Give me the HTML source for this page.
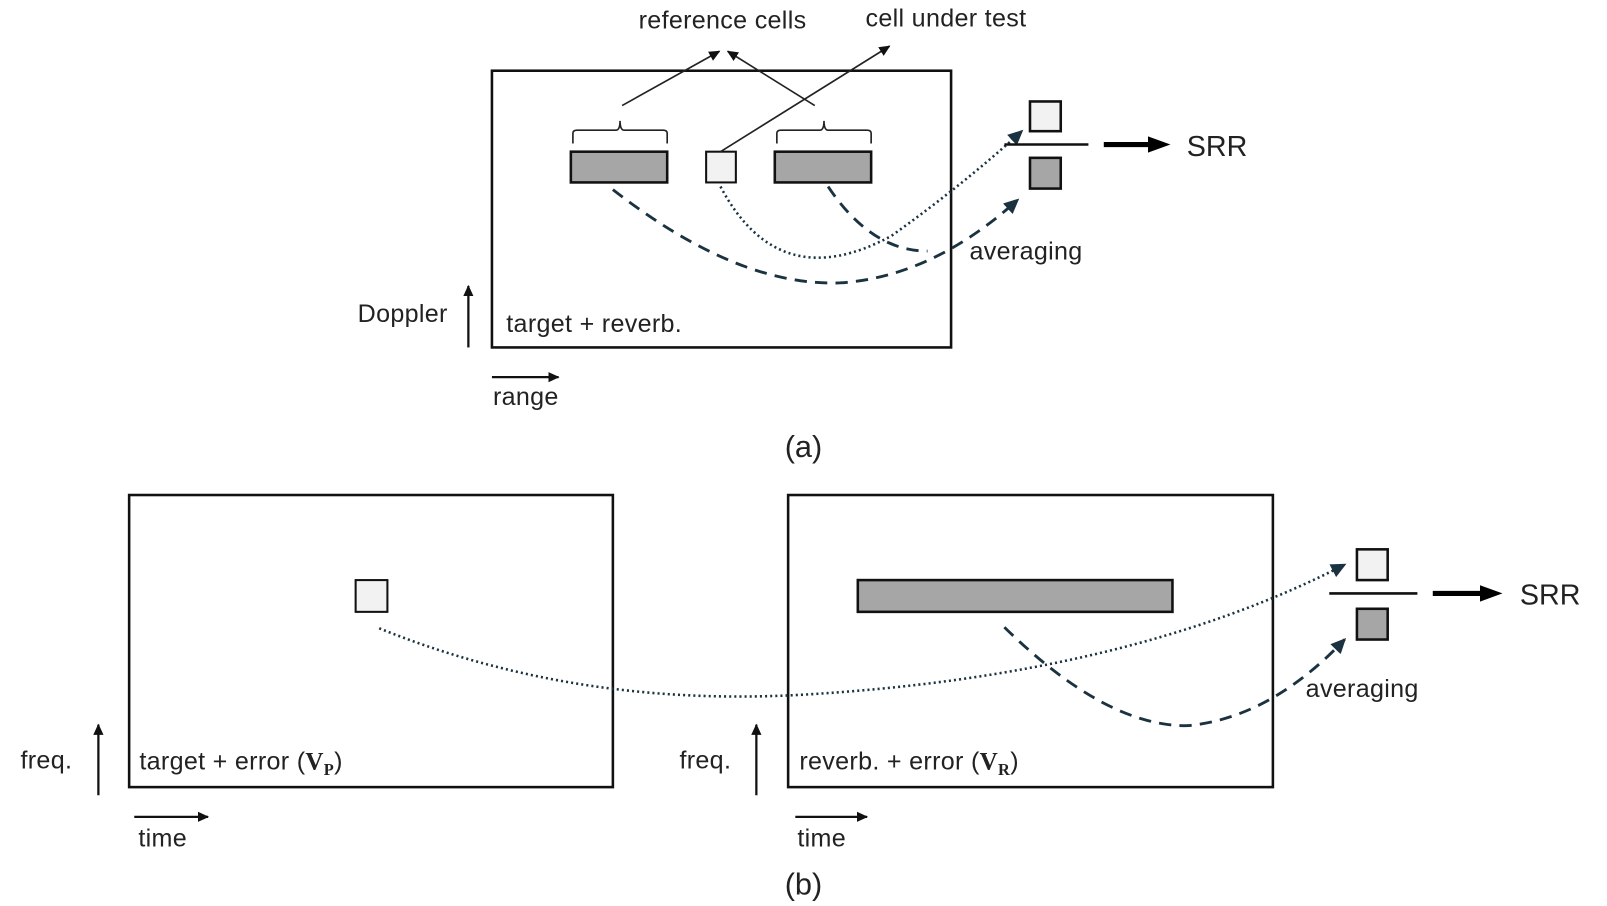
<!DOCTYPE html>
<html><head><meta charset="utf-8"><style>
html,body{margin:0;padding:0;background:#fff;}
svg{display:block}
text{font-family:"Liberation Sans",sans-serif;fill:#222}
.t{font-size:24.5px;letter-spacing:0.3px}
</style></head><body>
<svg width="1607" height="906" viewBox="0 0 1568 884" preserveAspectRatio="none" xmlns="http://www.w3.org/2000/svg">
<defs>
<marker id="ak" markerWidth="12" markerHeight="12" refX="10" refY="6" orient="auto" markerUnits="userSpaceOnUse"><path d="M0,1 L11,6 L0,11 z" fill="#111"/></marker>
<marker id="ad" markerWidth="16" markerHeight="16" refX="13" refY="8" orient="auto" markerUnits="userSpaceOnUse"><path d="M0,1 L15,8 L0,15 z" fill="#1b3340"/></marker>
<marker id="ab" markerWidth="24" markerHeight="20" refX="4" refY="10" orient="auto" markerUnits="userSpaceOnUse"><path d="M0,2 L22,10 L0,18 z" fill="#000"/></marker>
</defs>
<!-- (a) -->
<rect x="480" y="69" width="448" height="270" fill="none" stroke="#111" stroke-width="2.5"/>
<rect x="557" y="148" width="94" height="30" fill="#a6a6a6" stroke="#111" stroke-width="2.5"/>
<rect x="689" y="148" width="29" height="30" fill="#f2f2f2" stroke="#111" stroke-width="2"/>
<rect x="756" y="148" width="94" height="30" fill="#a6a6a6" stroke="#111" stroke-width="2.5"/>
<path d="M559,140 V130 Q559,127 563,127 H601 Q605,127 605,118 Q605,127 609,127 H647 Q651,127 651,130 V140" fill="none" stroke="#222" stroke-width="1.6"/>
<path d="M758,140 V130 Q758,127 762,127 H800 Q804,127 804,118 Q804,127 808,127 H846 Q850,127 850,130 V140" fill="none" stroke="#222" stroke-width="1.6"/>
<line x1="607" y1="103" x2="702" y2="50" stroke="#222" stroke-width="1.6" marker-end="url(#ak)"/>
<line x1="795" y1="103" x2="710" y2="50" stroke="#222" stroke-width="1.6" marker-end="url(#ak)"/>
<line x1="703" y1="148" x2="868" y2="45" stroke="#222" stroke-width="1.6" marker-end="url(#ak)"/>
<text x="705" y="28" class="t" text-anchor="middle">reference cells</text>
<text x="923" y="26" class="t" text-anchor="middle">cell under test</text>
<path d="M703,182 Q760,290 870,230 Q940,180 997,128" fill="none" stroke="#1b3340" stroke-width="2.5" stroke-dasharray="2,3" marker-end="url(#ad)"/>
<path d="M598,185 Q720,280 820,276 Q910,270 993,195" fill="none" stroke="#1b3340" stroke-width="2.8" stroke-dasharray="12,8" marker-end="url(#ad)"/>
<path d="M808,182 Q850,245 905,245" fill="none" stroke="#1b3340" stroke-width="2.8" stroke-dasharray="12,8"/>
<rect x="1005" y="99" width="30" height="29" fill="#f2f2f2" stroke="#111" stroke-width="2.5"/>
<line x1="980" y1="141" x2="1062" y2="141" stroke="#111" stroke-width="2.5"/>
<rect x="1005" y="154" width="30" height="30" fill="#a6a6a6" stroke="#111" stroke-width="2.5"/>
<line x1="1077" y1="141" x2="1124" y2="141" stroke="#000" stroke-width="5" marker-end="url(#ab)"/>
<text x="1158" y="152" font-size="28">SRR</text>
<text x="946" y="253" class="t">averaging</text>
<text x="349" y="314" class="t">Doppler</text>
<line x1="457" y1="339" x2="457" y2="279" stroke="#111" stroke-width="2.2" marker-end="url(#ak)"/>
<text x="494" y="324" class="t">target + reverb.</text>
<line x1="480" y1="368" x2="545" y2="368" stroke="#111" stroke-width="2.2" marker-end="url(#ak)"/>
<text x="481" y="395" class="t">range</text>
<text x="784" y="446" font-size="30" text-anchor="middle">(a)</text>
<!-- (b) -->
<rect x="126" y="483" width="472" height="285" fill="none" stroke="#111" stroke-width="2.5"/>
<rect x="347" y="566" width="31" height="31" fill="#f2f2f2" stroke="#111" stroke-width="2"/>
<rect x="769" y="483" width="473" height="285" fill="none" stroke="#111" stroke-width="2.5"/>
<rect x="837" y="566" width="307" height="31" fill="#a6a6a6" stroke="#111" stroke-width="2.5"/>
<path d="M370,613 Q560,690 780,678 Q1100,660 1312,551" fill="none" stroke="#1b3340" stroke-width="2.5" stroke-dasharray="2,3" marker-end="url(#ad)"/>
<path d="M980,612 Q1080,710 1160,708 Q1240,700 1312,624" fill="none" stroke="#1b3340" stroke-width="2.8" stroke-dasharray="12,8" marker-end="url(#ad)"/>
<rect x="1324" y="536" width="30" height="30" fill="#f2f2f2" stroke="#111" stroke-width="2.5"/>
<line x1="1297" y1="579" x2="1383" y2="579" stroke="#111" stroke-width="2.5"/>
<rect x="1324" y="594" width="30" height="30" fill="#a6a6a6" stroke="#111" stroke-width="2.5"/>
<line x1="1398" y1="579" x2="1448" y2="579" stroke="#000" stroke-width="5" marker-end="url(#ab)"/>
<text x="1483" y="590" font-size="28">SRR</text>
<text x="1274" y="680" class="t">averaging</text>
<text x="20" y="750" class="t">freq.</text>
<line x1="96" y1="776" x2="96" y2="707" stroke="#111" stroke-width="2.2" marker-end="url(#ak)"/>
<text x="136" y="751" class="t">target + error (<tspan font-family="Liberation Serif" font-weight="bold">V</tspan><tspan font-family="Liberation Serif" font-weight="bold" font-size="16" dy="5">P</tspan><tspan dy="-5">)</tspan></text>
<line x1="131" y1="797" x2="203" y2="797" stroke="#111" stroke-width="2.2" marker-end="url(#ak)"/>
<text x="135" y="826" class="t">time</text>
<text x="663" y="750" class="t">freq.</text>
<line x1="738" y1="776" x2="738" y2="707" stroke="#111" stroke-width="2.2" marker-end="url(#ak)"/>
<text x="780" y="751" class="t">reverb. + error (<tspan font-family="Liberation Serif" font-weight="bold">V</tspan><tspan font-family="Liberation Serif" font-weight="bold" font-size="16" dy="5">R</tspan><tspan dy="-5">)</tspan></text>
<line x1="776" y1="797" x2="846" y2="797" stroke="#111" stroke-width="2.2" marker-end="url(#ak)"/>
<text x="778" y="826" class="t">time</text>
<text x="784" y="873" font-size="30" text-anchor="middle">(b)</text>
</svg>
</body></html>
